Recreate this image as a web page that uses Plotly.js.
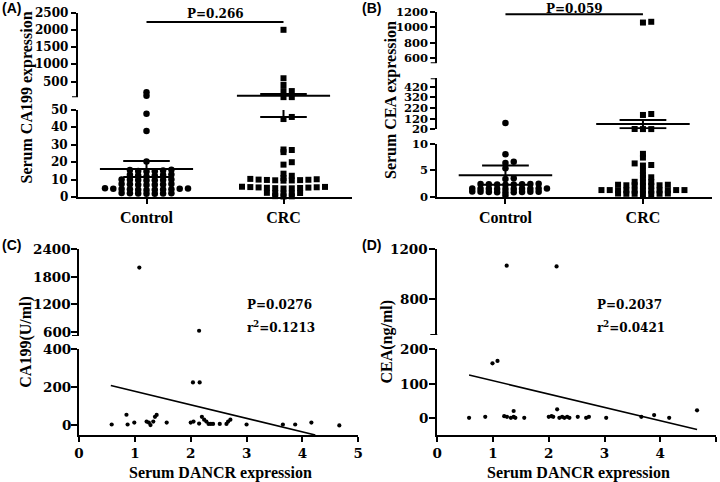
<!DOCTYPE html>
<html><head><meta charset="utf-8">
<script src="https://cdn.plot.ly/plotly-3.0.1.min.js"></script>
<style>html,body{margin:0;padding:0;background:#fff}</style>
</head><body>
<div id="chart" style="width:720px;height:482px"></div>
<script>
// ---------- data ----------
const groups = ['Control', 'CRC'];

// (A) Serum CA199 expression (U/ml)
const ca199Control = [1.8,1.9,2.0,2.0,2.1,2.2,2.3, 4.0,4.1,4.2,4.3,4.4,4.5,4.6,4.7,4.8,4.9,5.0,
  6.9,7.0,7.1,7.2,7.3,7.4,7.5, 9.5,9.6,9.7,9.8,9.9,10.0,10.1, 11.8,12.2,12.4,12.6,12.8,13.0,
  14.6,14.8,15.0,15.2,15.5,15.6, 20.4,37.9,47.9, 96,193];
const ca199CRC = [0.3,0.4,0.5, 2.0,2.1,2.2,2.3,2.4, 4.9,5.0,5.1,5.2,5.3,5.4,5.5,5.6,5.7,5.8,5.9,
  9.4,9.5,9.6,9.7,9.8,9.9,10.0,10.2,10.4, 10.9,12.2,13.4, 18.6,20.0, 25.8,27.0,27.3, 44.8,46.0,
  55,55,230,230,405,600,2000];
const ca199Mean = [16.1, 96];
const ca199SEM = [4.65, 50];
const ca199P = 'P=0.266';

// (B) Serum CEA expression (ng/ml)
const ceaControl = [0.3, 0.85,0.9,0.9,0.95,0.95,1.0,1.0,1.0,1.05, 1.5,1.5,1.5,1.55,1.55,1.55,1.55,1.6,1.6,1.6,
  2.3,2.35,2.35,2.4,2.4,2.45,2.45,2.5, 3.4,3.5, 5.4,6.4,6.6,8.0, 80];
const ceaCRC = [0.55,0.55,0.6,0.6,0.6,0.65,0.65, 1.2,1.2,1.2,1.25,1.25,1.25,1.25,1.3,1.3,1.3,1.3,
  2.1,2.1,2.2,2.2,2.2,2.3,2.3, 2.75,2.8,2.85, 3.6,3.7, 4.1,4.9,5.9,6.0,6.3,7.4,8.1,
  22,22,23,155,164, 1060,1070];
const ceaMean = [4.1, 69];
const ceaSEM = [1.8, 39];
const ceaP = 'P=0.059';

// (C) DANCR vs CA199
const dancrC = [1.08,2.15,2.04,2.16,0.585,0.85,0.87,0.99,1.21,1.25,1.28,1.33,1.36,1.39,1.57,2.0,2.05,
  2.15,2.2,2.24,2.28,2.32,2.36,2.4,2.52,2.64,2.67,2.71,3.0,3.65,3.87,4.16,4.66];
const ca199C = [2000,620,225,225,5,56,5,15,20,15,2,20,45,55,15,15,20,10,45,30,20,8,8,8,8,8,20,30,5,5,5,15,0];
const fitCx = [0.57, 4.23];
const fitCy = [209, -50];
const statC = ['P=0.0276', 'r<sup>2</sup>=0.1213'];

// (D) DANCR vs CEA
const dancrD = [1.245,2.14,0.99,1.08,0.57,0.86,1.2,1.25,1.32,1.37,1.4,1.37,1.56,2.0,2.05,2.08,2.15,
  2.19,2.24,2.28,2.33,2.37,2.52,2.67,2.72,3.03,3.66,3.89,4.16,4.66];
const ceaD = [1066,1060,159,166,0,3,5,3,0,3,0,20,0,3,5,3,25,0,3,0,3,0,3,0,3,0,3,8,0,22];
const fitDx = [0.57, 4.66];
const fitDy = [125, -34];
const statD = ['P=0.2037', 'r<sup>2</sup>=0.0421'];

// labelled ticks of the broken axes (segment by segment, bottom first)
const ticksA = [[0,10,20,30,40,50], [500,1000,1500,2000,2500]];
const ticksB = [[0,5,10], [20,120,220,320,420], [600,800,1000,1200]];
const ticksC = [[0,200,400], [600,1200,1800,2400]];
const ticksD = [[0,100,200], [800,1200]];
const xTicksCD = [0,1,2,3,4,5];

// ---------- layout helpers ----------
const W = 720, H = 482;
const fx = px => px / W;
const fy = py => 1 - py / H;
const BLACK = '#000';
const SERIF = 'Liberation Serif, Times New Roman, serif';
const WIDE = 'DejaVu Serif, serif';

// endTicks: unlabelled tick marks where a broken segment ends; lab: gap from axis to tick-label right edge
const panels = {
  A: {xid:'x', xDom:[78,352], font:12, lab:9.5, segs:[
      {yid:'y',  range:[0,50],     py:[197,110],   vals:ticksA[0], endTicks:[]},
      {yid:'y2', range:[50,2500],  py:[97.3,12.5], vals:ticksA[1], endTicks:[50]}]},
  B: {xid:'x2', xDom:[436.7,711.7], font:11.5, lab:7.5, segs:[
      {yid:'y3', range:[0,10],     py:[197,143.7], vals:ticksB[0], endTicks:[]},
      {yid:'y4', range:[20,500],   py:[129.3,78.3], vals:ticksB[1], endTicks:[500]},
      {yid:'y5', range:[535,1200], py:[63.3,11.7], vals:ticksB[2], endTicks:[535]}]},
  C: {xid:'x3', xDom:[79,358.3], font:13.5, lab:7.5, segs:[
      {yid:'y6', range:[-50,400],  py:[435,349],   vals:ticksC[0], endTicks:[]},
      {yid:'y7', range:[505,2400], py:[336,249.3], vals:ticksC[1], endTicks:[505]}]},
  D: {xid:'x4', xDom:[437.3,716], font:13.5, lab:8, segs:[
      {yid:'y8', range:[-50,200],  py:[435,349.3], vals:ticksD[0], endTicks:[]},
      {yid:'y9', range:[510,1200], py:[335,249],   vals:ticksD[1], endTicks:[510]}]}
};

const segOf = (p, v) => p.segs.find(s => v >= s.range[0] && v <= s.range[1]);
function toPix(p, v) {
  const s = segOf(p, v);
  return s.py[0] + (v - s.range[0]) / (s.range[1] - s.range[0]) * (s.py[1] - s.py[0]);
}

// column swarm (computed layout of dots around the category centre)
function swarm(p, values, centre, colPx, thresh) {
  const unitPx = (p.xDom[1] - p.xDom[0]) / 2;
  const colUnit = colPx / unitPx;
  const order = values.map((v, i) => i).sort((a, b) => values[a] - values[b]);
  const placed = [];
  const xs = new Array(values.length);
  order.forEach(i => {
    const py = toPix(p, values[i]);
    for (let k = 0; k < 80; k++) {
      const col = k === 0 ? 0 : (k % 2 ? (k + 1) / 2 : -k / 2);
      if (!placed.some(q => q.col === col && Math.abs(q.py - py) < thresh)) {
        placed.push({col, py});
        xs[i] = centre + col * colUnit;
        break;
      }
    }
  });
  return xs;
}

const traces = [];
function addPoints(p, xs, ys, symbol, size) {
  p.segs.forEach(s => {
    const X = [], Y = [];
    ys.forEach((v, i) => { if (v >= s.range[0] && v <= s.range[1]) { X.push(xs[i]); Y.push(v); } });
    if (X.length) traces.push({x:X, y:Y, type:'scatter', mode:'markers', xaxis:p.xid, yaxis:s.yid,
      marker:{symbol, size, color:BLACK, line:{width:0}}, cliponaxis:false, hoverinfo:'skip', showlegend:false});
  });
}
function addLine(p, xs, ys, width) {
  const s = segOf(p, ys[0]);
  traces.push({x:xs, y:ys, type:'scatter', mode:'lines', xaxis:p.xid, yaxis:s.yid,
    line:{color:BLACK, width}, cliponaxis:false, hoverinfo:'skip', showlegend:false});
}
function addMeanSEM(p, c, mean, sem) {
  const lo = mean - sem, hi = mean + sem;
  p.segs.forEach(s => {
    const X = [], Y = [];
    const a = Math.max(lo, s.range[0]), b = Math.min(hi, s.range[1]);
    if (a < b) { X.push(c, c, null); Y.push(a, b, null); }
    if (mean >= s.range[0] && mean <= s.range[1]) { X.push(c - 0.34, c + 0.34, null); Y.push(mean, mean, null); }
    [lo, hi].forEach(v => { if (v >= s.range[0] && v <= s.range[1]) { X.push(c - 0.17, c + 0.17, null); Y.push(v, v, null); } });
    if (X.length) traces.push({x:X, y:Y, type:'scatter', mode:'lines', xaxis:p.xid, yaxis:s.yid,
      line:{color:BLACK, width:2}, cliponaxis:false, hoverinfo:'skip', showlegend:false});
  });
}

// (A) and (B) dot plots
[[panels.A, [ca199Control, ca199CRC], ca199Mean, ca199SEM], [panels.B, [ceaControl, ceaCRC], ceaMean, ceaSEM]]
  .forEach(([p, data, means, sems]) => {
    data.forEach((vals, g) => {
      const xs = swarm(p, vals, g, 8.3, 2.5);
      addPoints(p, xs, vals, g === 0 ? 'circle' : 'square', g === 0 ? 6.5 : 6);
      addMeanSEM(p, g, means[g], sems[g]);
    });
  });

// (C) and (D) scatter + fitted line
addPoints(panels.C, dancrC, ca199C, 'circle', 4.2);
addLine(panels.C, fitCx, fitCy, 1.6);
addPoints(panels.D, dancrD, ceaD, 'circle', 4.2);
addLine(panels.D, fitDx, fitDy, 1.6);

// ---------- axes ----------
const layout = {
  width: W, height: H, margin:{l:0, r:0, t:0, b:0},
  paper_bgcolor:'#fff', plot_bgcolor:'rgba(0,0,0,0)', showlegend:false,
  annotations:[], shapes:[]
};
const axisCommon = {showline:true, linewidth:2, linecolor:BLACK, ticks:'outside', tickwidth:2, tickcolor:BLACK,
  showgrid:false, zeroline:false, automargin:false, fixedrange:true};

Object.entries(panels).forEach(([key, p]) => {
  const dot = key === 'A' || key === 'B';
  const xName = 'xaxis' + (p.xid === 'x' ? '' : p.xid.slice(1));
  const tl = dot ? 5 : 6;
  layout[xName] = Object.assign({}, axisCommon, {
    domain:[fx(p.xDom[0]), fx(p.xDom[1])], anchor:p.segs[0].yid,
    range: dot ? [-0.5, 1.5] : [0, 5], tickmode:'array',
    tickvals: dot ? [0, 1] : xTicksCD, ticktext: dot ? groups : xTicksCD.map(String),
    ticklen: 5,
    tickfont: dot ? {family:SERIF, size:16, color:BLACK, weight:'bold'} : {family:WIDE, size:p.font, color:BLACK, weight:'bold'}
  });
  p.segs.forEach(s => {
    const yName = 'yaxis' + (s.yid === 'y' ? '' : s.yid.slice(1));
    layout[yName] = Object.assign({}, axisCommon, {
      domain:[fy(s.py[0]), fy(s.py[1])], range:s.range, anchor:p.xid,
      tickmode:'array', tickvals:s.vals, showticklabels:false, ticklen: tl
    });
    // tick labels placed on the axis' own scale (yref = that axis)
    s.vals.forEach(v => {
      layout.annotations.push({text:String(v), xref:'paper', yref:s.yid, x:fx(p.xDom[0] - p.lab), y:v,
        xanchor:'right', yanchor:'middle', showarrow:false, borderpad:0,
        font:{family:WIDE, size:p.font, color:BLACK, weight:'bold'}});
    });
    s.endTicks.forEach(v => {
      layout.shapes.push({type:'line', xref:'paper', yref:s.yid, x0:fx(p.xDom[0] - tl - 1), x1:fx(p.xDom[0]),
        y0:v, y1:v, line:{color:BLACK, width:2}});
    });
  });
});

// ---------- texts ----------
function note(text, x, y, opts) {
  layout.annotations.push(Object.assign({text, x, y, xref:'paper', yref:'paper', showarrow:false,
    xanchor:'center', yanchor:'middle', font:{family:SERIF, size:16, color:BLACK, weight:'bold'}}, opts || {}));
}
const panelFont = {family:'Liberation Sans, Arial, sans-serif', size:14, color:BLACK, weight:'bold'};
note('(A)', fx(0), fy(8), {xanchor:'left', font:panelFont});
note('(B)', fx(360), fy(8), {xanchor:'left', font:panelFont});
note('(C)', fx(0), fy(245), {xanchor:'left', font:panelFont});
note('(D)', fx(360), fy(245), {xanchor:'left', font:panelFont});

note('Serum CA199 expression', fx(27), fy(97.5), {textangle:-90});
note('Serum CEA expression', fx(391), fy(100), {textangle:-90});
note('CA199(U/ml)', fx(26), fy(341.7), {textangle:-90});
note('CEA(ng/ml)', fx(386), fy(341.5), {textangle:-90});
note('Serum DANCR expression', fx(220), fy(473));
note('Serum DANCR expression', fx(578), fy(473));

const statFont = {family:WIDE, size:12, color:BLACK, weight:'bold'};
// P-value brackets between the two groups
[[panels.A, ca199P, 22, 13.5, 'middle'], [panels.B, ceaP, 14.3, 0, 'top']].forEach(([p, txt, lineY, textY, anc]) => {
  layout.shapes.push({type:'line', xref:p.xid, yref:'paper', x0:0, x1:1, y0:fy(lineY), y1:fy(lineY),
    line:{color:BLACK, width:2}});
  layout.annotations.push({text:txt, xref:p.xid, yref:'paper', x:0.5, y:fy(textY), showarrow:false,
    xanchor:'center', yanchor:anc, font:statFont});
});
note(statC[0], fx(245), fy(304.7), {xanchor:'left', font:statFont});
note(statC[1], fx(245), fy(326.5), {xanchor:'left', font:statFont});
note(statD[0], fx(595), fy(304.7), {xanchor:'left', font:statFont});
note(statD[1], fx(595), fy(326.5), {xanchor:'left', font:statFont});

Plotly.newPlot('chart', traces, layout, {staticPlot:true, displayModeBar:false});
</script>
</body></html>
